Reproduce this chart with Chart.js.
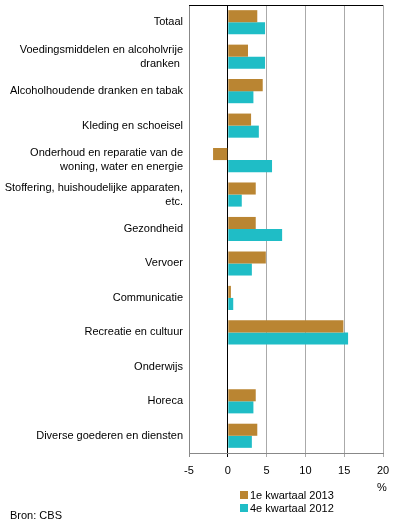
<!DOCTYPE html>
<html>
<head>
<meta charset="utf-8">
<script src="https://cdn.jsdelivr.net/npm/chart.js@4/dist/chart.umd.min.js"></script>
<style>
  body { margin:0; background:#fff; font-family:"Liberation Sans", Arial, sans-serif; }
  #wrap { position:relative; width:396px; height:526px; }
  .txt { position:absolute; font-size:11px; color:#000; line-height:13px; white-space:nowrap; }
  .sw { display:inline-block; width:8px; height:8px; margin-right:2px; vertical-align:-0px; }
</style>
</head>
<body>
<div id="wrap">
  <canvas id="chart" width="396" height="526"></canvas>
  <div class="txt" style="left:377px;top:481px">%</div>
  <div class="txt" style="left:240px;top:489px"><span class="sw" style="background:#BA8532"></span>1e kwartaal 2013</div>
  <div class="txt" style="left:240px;top:502px"><span class="sw" style="background:#1FBDC6"></span>4e kwartaal 2012</div>
  <div class="txt" style="left:10px;top:509px">Bron: CBS</div>
</div>
<script>
const categories = [
  'Totaal',
  ['Voedingsmiddelen en alcoholvrije', 'dranken '],
  'Alcoholhoudende dranken en tabak',
  'Kleding en schoeisel',
  ['Onderhoud en reparatie van de', 'woning, water en energie'],
  ['Stoffering, huishoudelijke apparaten,', 'etc.'],
  'Gezondheid',
  'Vervoer',
  'Communicatie',
  'Recreatie en cultuur',
  'Onderwijs',
  'Horeca',
  'Diverse goederen en diensten'
];
const q1_2013 = [3.8, 2.6, 4.5, 3.0, -1.9, 3.6, 3.6, 4.9, 0.4, 14.9, 0, 3.6, 3.8];
const q4_2012 = [4.8, 4.8, 3.3, 4.0, 5.7, 1.8, 7.0, 3.1, 0.7, 15.5, 0, 3.3, 3.1];
const xTicks = [-5, 0, 5, 10, 15, 20];

const topLine = {
  id: 'topLine',
  afterDraw(chart){
    const a = chart.chartArea, c = chart.ctx;
    c.save();
    c.strokeStyle = '#000';
    c.lineWidth = 1;
    c.beginPath();
    c.moveTo(a.left, a.top + 0.5);
    c.lineTo(a.right, a.top + 0.5);
    c.stroke();
    c.restore();
  }
};

new Chart(document.getElementById('chart').getContext('2d'), {
  type: 'bar',
  data: {
    labels: categories,
    datasets: [
      { label:'1e kwartaal 2013', data:q1_2013, backgroundColor:'#BA8532', borderWidth:0 },
      { label:'4e kwartaal 2012', data:q4_2012, backgroundColor:'#1FBDC6', borderWidth:0 }
    ]
  },
  options: {
    indexAxis: 'y',
    responsive: false,
    animation: false,
    events: [],
    categoryPercentage: 0.7,
    barPercentage: 1,
    layout: { padding: { top:5, right:13, left:0, bottom:0 } },
    plugins: { legend: { display:false }, tooltip: { enabled:false } },
    scales: {
      x: {
        min: -5, max: 20,
        afterFit: s => { s.height = 73; s.paddingLeft = 0; s.paddingRight = 0; },
        afterBuildTicks: s => { s.ticks = xTicks.map(v => ({ value:v })); },
        grid: {
          color: ctx => ctx.tick && ctx.tick.value === 0 ? '#000' : (ctx.tick && ctx.tick.value === -5 ? '#888' : '#aaa'),
          tickLength: 4,
          drawOnChartArea: true
        },
        border: { display:true, color:'#888' },
        ticks: { color:'#000', font:{ family:'"Liberation Sans", Arial, sans-serif', size:11 }, padding:7 }
      },
      y: {
        afterFit: s => { s.width = 189; s.paddingTop = 0; s.paddingBottom = 0; },
        grid: { display:false, drawTicks:false },
        border: { display:true, color:'#888' },
        ticks: { color:'#000', font:{ family:'"Liberation Sans", Arial, sans-serif', size:11, lineHeight:1.27 }, padding:6, autoSkip:false }
      }
    }
  },
  plugins: [topLine]
});
</script>
</body>
</html>
